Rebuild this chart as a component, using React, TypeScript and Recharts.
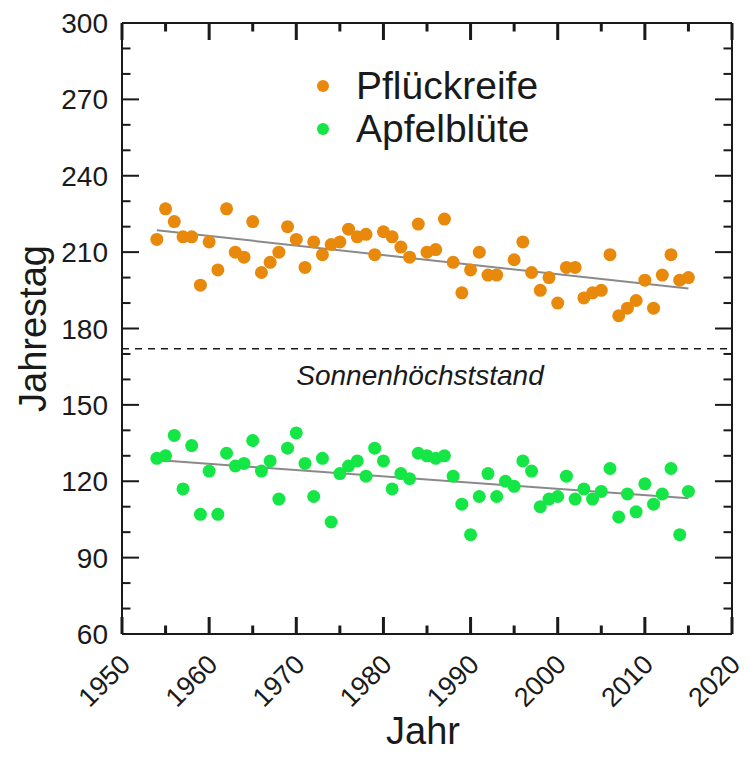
import React from 'react';
import { ScatterChart, Scatter, XAxis, YAxis, ReferenceLine, Legend } from 'recharts';

// Pflückreife (harvest ripeness), day of year
const pickYears = [
  1954, 1955, 1956, 1957, 1958, 1959, 1960, 1961, 1962, 1963, 1964, 1965, 1966, 1967, 1968, 1969, 1970,
  1971, 1972, 1973, 1974, 1975, 1976, 1977, 1978, 1979, 1980, 1981, 1982, 1983, 1984, 1985, 1986, 1987,
  1988, 1989, 1990, 1991, 1992, 1993, 1995, 1996, 1997, 1998, 1999, 2000, 2001, 2002, 2003, 2004, 2005,
  2006, 2007, 2008, 2009, 2010, 2011, 2012, 2013, 2014, 2015,
];
const pickDays = [
  215, 227, 222, 216, 216, 197, 214, 203, 227, 210, 208, 222, 202, 206, 210, 220, 215,
  204, 214, 209, 213, 214, 219, 216, 217, 209, 218, 216, 212, 208, 221, 210, 211, 223,
  206, 194, 203, 210, 201, 201, 207, 214, 202, 195, 200, 190, 204, 204, 192, 194, 195,
  209, 185, 188, 191, 199, 188, 201, 209, 199, 200,
];

// Apfelblüte (apple blossom), day of year
const bloomYears = [
  1954, 1955, 1956, 1957, 1958, 1959, 1960, 1961, 1962, 1963, 1964, 1965, 1966, 1967, 1968, 1969, 1970,
  1971, 1972, 1973, 1974, 1975, 1976, 1977, 1978, 1979, 1980, 1981, 1982, 1983, 1984, 1985, 1986, 1987,
  1988, 1989, 1990, 1991, 1992, 1993, 1994, 1995, 1996, 1997, 1998, 1999, 2000, 2001, 2002, 2003, 2004,
  2005, 2006, 2007, 2008, 2009, 2010, 2011, 2012, 2013, 2014, 2015,
];
const bloomDays = [
  129, 130, 138, 117, 134, 107, 124, 107, 131, 126, 127, 136, 124, 128, 113, 133, 139,
  127, 114, 129, 104, 123, 126, 128, 122, 133, 128, 117, 123, 121, 131, 130, 129, 130,
  122, 111, 99, 114, 123, 114, 120, 118, 128, 124, 110, 113, 114, 122, 113, 117, 113,
  116, 125, 106, 115, 108, 119, 111, 115, 125, 99, 116,
];

// trend lines (start and end)
const trendYears = [1954, 2015];
const pickTrend = [218.6, 195.7];
const bloomTrend = [128.3, 113.3];

const solsticeDay = 172;

const xDomain = [1950, 2020];
const yDomain = [60, 300];
const xTicks = [1950, 1955, 1960, 1965, 1970, 1975, 1980, 1985, 1990, 1995, 2000, 2005, 2010, 2015, 2020];
const yTicks = [60, 70, 80, 90, 100, 110, 120, 130, 140, 150, 160, 170, 180, 190, 200, 210, 220, 230, 240, 250, 260, 270, 280, 290, 300];
const xLabels = [1950, 1960, 1970, 1980, 1990, 2000, 2010, 2020];
const yLabels = [60, 90, 120, 150, 180, 210, 240, 270, 300];

const ORANGE = '#e8890c';
const GREEN = '#14e646';
const TREND = '#8a8a8a';
const INK = '#1a1a1a';
const FONT = '"Liberation Sans", Arial, sans-serif';
const BIG = 17;
const SMALL = 8.5;
const frame = { stroke: INK, strokeWidth: 2 };

const pickData = pickYears.map((year, i) => ({ year, day: pickDays[i] }));
const bloomData = bloomYears.map((year, i) => ({ year, day: bloomDays[i] }));
const pickTrendData = trendYears.map((year, i) => ({ year, day: pickTrend[i] }));
const bloomTrendData = trendYears.map((year, i) => ({ year, day: bloomTrend[i] }));

// inward tick marks: a reference line per tick, of which only both ends are drawn
const vTickShape = (len: number) => (p: any) => {
  const x = Number(p.x1);
  const top = Math.min(Number(p.y1), Number(p.y2));
  const bottom = Math.max(Number(p.y1), Number(p.y2));
  return (
    <g>
      <rect x={x - 1.5} y={bottom - len} width={3} height={len} fill={INK} />
      <rect x={x - 1.5} y={top} width={3} height={len} fill={INK} />
    </g>
  );
};

const hTickShape = (len: number) => (p: any) => {
  const y = Number(p.y1);
  const left = Math.min(Number(p.x1), Number(p.x2));
  const right = Math.max(Number(p.x1), Number(p.x2));
  return (
    <g>
      <rect x={left} y={y - 1} width={len} height={2} fill={INK} />
      <rect x={right - len} y={y - 1} width={len} height={2} fill={INK} />
    </g>
  );
};

const BottomLabel = (props: any) => (
  <text
    transform={`translate(${props.x + 10},${props.y + 32}) rotate(-45)`}
    textAnchor="end"
    fontSize={27}
    fontFamily={FONT}
    fill={INK}
  >
    {props.payload.value}
  </text>
);

const LeftLabel = (props: any) => (
  <text x={props.x - 14} y={props.y} dy="0.36em" textAnchor="end" fontSize={28} fontFamily={FONT} fill={INK}>
    {props.payload.value}
  </text>
);

const dot = (color: string) => (p: any) => <circle cx={p.cx} cy={p.cy} r={6.5} fill={color} />;

const LegendBox = () => (
  <div style={{ fontFamily: FONT, fontSize: 39, color: INK }}>
    {[
      { name: 'Pflückreife', color: ORANGE },
      { name: 'Apfelblüte', color: GREEN },
    ].map((item) => (
      <div key={item.name} style={{ display: 'flex', alignItems: 'center', height: 43 }}>
        <div style={{ width: 12, height: 12, borderRadius: 6, background: item.color, marginRight: 27 }} />
        <span style={{ lineHeight: '43px' }}>{item.name}</span>
      </div>
    ))}
  </div>
);

export default function App() {
  return (
    <div style={{ position: 'absolute', left: 0, top: 0, background: '#fff' }}>
      <ScatterChart width={751} height={757} margin={{ top: 22, right: 18, bottom: 122, left: 121 }}>
        <XAxis
          dataKey="year"
          type="number"
          domain={xDomain}
          ticks={xLabels}
          interval={0}
          height={1}
          tickSize={0}
          tickMargin={0}
          tickLine={false}
          tick={<BottomLabel />}
          axisLine={frame}
          label={{
            content: (p: any) => (
              <text
                x={p.viewBox.x + p.viewBox.width / 2 - 4}
                y={p.viewBox.y + 110}
                textAnchor="middle"
                fontSize={38}
                fontFamily={FONT}
                fill={INK}
              >
                Jahr
              </text>
            ),
          }}
        />
        <XAxis
          xAxisId="top"
          orientation="top"
          type="number"
          domain={xDomain}
          height={1}
          tick={false}
          tickLine={false}
          axisLine={frame}
        />
        <YAxis
          dataKey="day"
          type="number"
          domain={yDomain}
          ticks={yLabels}
          interval={0}
          width={1}
          tickSize={0}
          tickMargin={0}
          tickLine={false}
          tick={<LeftLabel />}
          axisLine={frame}
          label={{
            content: (p: any) => (
              <text
                transform={`translate(46,${p.viewBox.y + p.viewBox.height / 2}) rotate(-90)`}
                textAnchor="middle"
                fontSize={38}
                fontFamily={FONT}
                fill={INK}
              >
                Jahrestag
              </text>
            ),
          }}
        />
        <YAxis
          yAxisId="right"
          orientation="right"
          type="number"
          domain={yDomain}
          width={1}
          tick={false}
          tickLine={false}
          axisLine={frame}
        />
        {xTicks.map((year) => (
          <ReferenceLine
            key={`xt-${year}`}
            x={year}
            ifOverflow="visible"
            shape={vTickShape(xLabels.includes(year) ? BIG : SMALL)}
          />
        ))}
        {yTicks.map((day) => (
          <ReferenceLine
            key={`yt-${day}`}
            y={day}
            ifOverflow="visible"
            shape={hTickShape(yLabels.includes(day) ? BIG : SMALL)}
          />
        ))}
        <ReferenceLine
          y={solsticeDay}
          stroke={INK}
          strokeWidth={1.5}
          strokeDasharray="7 6"
          label={(p: any) => (
            <text
              x={p.viewBox.x + p.viewBox.width / 2 - 7}
              y={p.viewBox.y + 36}
              textAnchor="middle"
              fontSize={28}
              fontStyle="italic"
              fontFamily={FONT}
              fill={INK}
            >
              Sonnenhöchststand
            </text>
          )}
        />
        <Scatter data={pickTrendData} line={{ stroke: TREND, strokeWidth: 2 }} shape={() => <g />} isAnimationActive={false} />
        <Scatter data={bloomTrendData} line={{ stroke: TREND, strokeWidth: 2 }} shape={() => <g />} isAnimationActive={false} />
        <Scatter name="Pflückreife" data={pickData} shape={dot(ORANGE)} isAnimationActive={false} />
        <Scatter name="Apfelblüte" data={bloomData} shape={dot(GREEN)} isAnimationActive={false} />
        <Legend
          layout="vertical"
          align="center"
          verticalAlign="middle"
          content={() => <LegendBox />}
          wrapperStyle={{ left: 317, top: 64, width: 'auto', height: 'auto' }}
        />
      </ScatterChart>
    </div>
  );
}
